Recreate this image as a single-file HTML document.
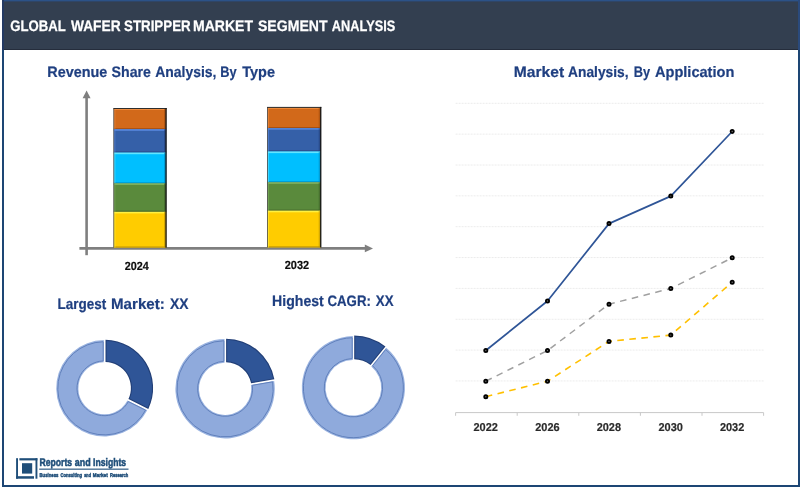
<!DOCTYPE html>
<html lang="en"><head><meta charset="utf-8"><title>Global Wafer Stripper Market Segment Analysis</title>
<style>
html,body{margin:0;padding:0;background:#fff;}
body{width:800px;height:487px;overflow:hidden;}
svg{display:block;}
text{text-rendering:geometricPrecision;font-family:"Liberation Sans",sans-serif;font-weight:bold;white-space:pre;}
</style></head><body>
<svg width="800" height="487" viewBox="0 0 800 487">
<rect x="0" y="0" width="800" height="487" fill="#ffffff"/>

<rect x="3" y="1" width="796" height="485" fill="#ffffff" stroke="#1d4674" stroke-width="2"/>
<rect x="2" y="0" width="798" height="50" fill="#333f50"/>
<rect x="2" y="0" width="798" height="1.4" fill="#2c5287"/>
<rect x="2" y="0" width="2" height="50" fill="#243a63"/>
<rect x="798" y="0" width="2" height="50" fill="#2a4a7c"/>
<rect x="4" y="49" width="794" height="1" fill="#252d3c"/>
<text x="10.30" y="31.00" font-size="15.2" fill="#ffffff" stroke="#ffffff" stroke-width="0.25" textLength="55.49" lengthAdjust="spacingAndGlyphs" >GLOBAL</text>
<text x="70.92" y="31.00" font-size="15.2" fill="#ffffff" stroke="#ffffff" stroke-width="0.25" textLength="49.74" lengthAdjust="spacingAndGlyphs" >WAFER</text>
<text x="124.03" y="31.00" font-size="15.2" fill="#ffffff" stroke="#ffffff" stroke-width="0.25" textLength="66.63" lengthAdjust="spacingAndGlyphs" >STRIPPER</text>
<text x="193.01" y="31.00" font-size="15.2" fill="#ffffff" stroke="#ffffff" stroke-width="0.25" textLength="60.04" lengthAdjust="spacingAndGlyphs" >MARKET</text>
<text x="258.00" y="31.00" font-size="15.2" fill="#ffffff" stroke="#ffffff" stroke-width="0.25" textLength="69.51" lengthAdjust="spacingAndGlyphs" >SEGMENT</text>
<text x="331.81" y="31.00" font-size="15.2" fill="#ffffff" stroke="#ffffff" stroke-width="0.25" textLength="63.51" lengthAdjust="spacingAndGlyphs" >ANALYSIS</text>
<text x="47.26" y="77.00" font-size="15.1" fill="#1f3f80" stroke="#1f3f80" stroke-width="0.2" textLength="60.09" lengthAdjust="spacingAndGlyphs" >Revenue</text>
<text x="111.57" y="77.00" font-size="15.1" fill="#1f3f80" stroke="#1f3f80" stroke-width="0.2" textLength="39.41" lengthAdjust="spacingAndGlyphs" >Share</text>
<text x="155.15" y="77.00" font-size="15.1" fill="#1f3f80" stroke="#1f3f80" stroke-width="0.2" textLength="61.27" lengthAdjust="spacingAndGlyphs" >Analysis,</text>
<text x="220.37" y="77.00" font-size="15.1" fill="#1f3f80" stroke="#1f3f80" stroke-width="0.2" textLength="16.34" lengthAdjust="spacingAndGlyphs" >By</text>
<text x="242.15" y="77.00" font-size="15.1" fill="#1f3f80" stroke="#1f3f80" stroke-width="0.2" textLength="32.85" lengthAdjust="spacingAndGlyphs" >Type</text>
<text x="513.79" y="77.00" font-size="15.1" fill="#1f3f80" stroke="#1f3f80" stroke-width="0.2" textLength="50.33" lengthAdjust="spacingAndGlyphs" >Market</text>
<text x="568.06" y="77.00" font-size="15.1" fill="#1f3f80" stroke="#1f3f80" stroke-width="0.2" textLength="60.46" lengthAdjust="spacingAndGlyphs" >Analysis,</text>
<text x="633.67" y="77.00" font-size="15.1" fill="#1f3f80" stroke="#1f3f80" stroke-width="0.2" textLength="16.34" lengthAdjust="spacingAndGlyphs" >By</text>
<text x="654.94" y="77.00" font-size="15.1" fill="#1f3f80" stroke="#1f3f80" stroke-width="0.2" textLength="79.43" lengthAdjust="spacingAndGlyphs" >Application</text>
<text x="57.62" y="309.00" font-size="15.1" fill="#1f3f80" stroke="#1f3f80" stroke-width="0.2" textLength="48.74" lengthAdjust="spacingAndGlyphs" >Largest</text>
<text x="111.02" y="309.00" font-size="15.1" fill="#1f3f80" stroke="#1f3f80" stroke-width="0.2" textLength="53.74" lengthAdjust="spacingAndGlyphs" >Market:</text>
<text x="169.96" y="309.00" font-size="15.1" fill="#1f3f80" stroke="#1f3f80" stroke-width="0.2" textLength="18.53" lengthAdjust="spacingAndGlyphs" >XX</text>
<text x="272.08" y="306.00" font-size="15.1" fill="#1f3f80" stroke="#1f3f80" stroke-width="0.2" textLength="51.69" lengthAdjust="spacingAndGlyphs" >Highest</text>
<text x="327.47" y="306.00" font-size="15.1" fill="#1f3f80" stroke="#1f3f80" stroke-width="0.2" textLength="43.42" lengthAdjust="spacingAndGlyphs" >CAGR:</text>
<text x="375.87" y="306.00" font-size="15.1" fill="#1f3f80" stroke="#1f3f80" stroke-width="0.2" textLength="17.72" lengthAdjust="spacingAndGlyphs" >XX</text>
<line x1="86.6" y1="255.2" x2="86.6" y2="97" stroke="#7f7f7f" stroke-width="2.6"/>
<polygon points="86.6,90.5 90.6,98.3 82.6,98.3" fill="#7f7f7f"/>
<line x1="79.4" y1="248.4" x2="366" y2="248.4" stroke="#7f7f7f" stroke-width="2.6"/>
<polygon points="373,248.4 364.8,244.6 364.8,252.2" fill="#7f7f7f"/>
<rect x="113.8" y="108.5" width="52.40" height="20.80" fill="#d2691a"/>
<rect x="113.8" y="108.5" width="52.40" height="1.5" fill="#f08c3e"/>
<rect x="113.8" y="128.10" width="52.40" height="1.2" fill="#9c4a0e" fill-opacity="0.75"/>
<rect x="113.8" y="108.5" width="1.6" height="20.80" fill="#f08c3e" fill-opacity="0.55"/>
<rect x="164.00" y="108.5" width="2.2" height="20.80" fill="#9c4a0e" fill-opacity="0.6"/>
<rect x="113.8" y="129.3" width="52.40" height="23.40" fill="#3560a8"/>
<rect x="113.8" y="129.3" width="52.40" height="1.5" fill="#5887de"/>
<rect x="113.8" y="151.50" width="52.40" height="1.2" fill="#233f78" fill-opacity="0.75"/>
<rect x="113.8" y="129.3" width="1.6" height="23.40" fill="#5887de" fill-opacity="0.55"/>
<rect x="164.00" y="129.3" width="2.2" height="23.40" fill="#233f78" fill-opacity="0.6"/>
<rect x="113.8" y="152.7" width="52.40" height="30.80" fill="#00bfff"/>
<rect x="113.8" y="152.7" width="52.40" height="1.5" fill="#62e6ff"/>
<rect x="113.8" y="182.30" width="52.40" height="1.2" fill="#0088bb" fill-opacity="0.75"/>
<rect x="113.8" y="152.7" width="1.6" height="30.80" fill="#62e6ff" fill-opacity="0.55"/>
<rect x="164.00" y="152.7" width="2.2" height="30.80" fill="#0088bb" fill-opacity="0.6"/>
<rect x="113.8" y="183.5" width="52.40" height="28.40" fill="#5a8a3c"/>
<rect x="113.8" y="183.5" width="52.40" height="1.5" fill="#7daf5c"/>
<rect x="113.8" y="210.70" width="52.40" height="1.2" fill="#3c5f26" fill-opacity="0.75"/>
<rect x="113.8" y="183.5" width="1.6" height="28.40" fill="#7daf5c" fill-opacity="0.55"/>
<rect x="164.00" y="183.5" width="2.2" height="28.40" fill="#3c5f26" fill-opacity="0.6"/>
<rect x="113.8" y="211.9" width="52.40" height="35.70" fill="#ffcc00"/>
<rect x="113.8" y="211.9" width="52.40" height="1.5" fill="#fff040"/>
<rect x="113.8" y="246.40" width="52.40" height="1.2" fill="#b88f00" fill-opacity="0.75"/>
<rect x="113.8" y="211.9" width="1.6" height="35.70" fill="#fff040" fill-opacity="0.55"/>
<rect x="164.00" y="211.9" width="2.2" height="35.70" fill="#b88f00" fill-opacity="0.6"/>
<rect x="113.40" y="108.5" width="0.8" height="139.10" fill="#4a4a4a"/>
<rect x="113.40" y="108.00" width="53.20" height="1" fill="#2e2e2e"/>
<rect x="165.40" y="108.00" width="1.3" height="139.60" fill="#161616"/>
<rect x="267.4" y="107.4" width="53.50" height="20.80" fill="#d2691a"/>
<rect x="267.4" y="107.4" width="53.50" height="1.5" fill="#f08c3e"/>
<rect x="267.4" y="127.00" width="53.50" height="1.2" fill="#9c4a0e" fill-opacity="0.75"/>
<rect x="267.4" y="107.4" width="1.6" height="20.80" fill="#f08c3e" fill-opacity="0.55"/>
<rect x="318.70" y="107.4" width="2.2" height="20.80" fill="#9c4a0e" fill-opacity="0.6"/>
<rect x="267.4" y="128.2" width="53.50" height="23.40" fill="#3560a8"/>
<rect x="267.4" y="128.2" width="53.50" height="1.5" fill="#5887de"/>
<rect x="267.4" y="150.40" width="53.50" height="1.2" fill="#233f78" fill-opacity="0.75"/>
<rect x="267.4" y="128.2" width="1.6" height="23.40" fill="#5887de" fill-opacity="0.55"/>
<rect x="318.70" y="128.2" width="2.2" height="23.40" fill="#233f78" fill-opacity="0.6"/>
<rect x="267.4" y="151.6" width="53.50" height="30.80" fill="#00bfff"/>
<rect x="267.4" y="151.6" width="53.50" height="1.5" fill="#62e6ff"/>
<rect x="267.4" y="181.20" width="53.50" height="1.2" fill="#0088bb" fill-opacity="0.75"/>
<rect x="267.4" y="151.6" width="1.6" height="30.80" fill="#62e6ff" fill-opacity="0.55"/>
<rect x="318.70" y="151.6" width="2.2" height="30.80" fill="#0088bb" fill-opacity="0.6"/>
<rect x="267.4" y="182.4" width="53.50" height="28.40" fill="#5a8a3c"/>
<rect x="267.4" y="182.4" width="53.50" height="1.5" fill="#7daf5c"/>
<rect x="267.4" y="209.60" width="53.50" height="1.2" fill="#3c5f26" fill-opacity="0.75"/>
<rect x="267.4" y="182.4" width="1.6" height="28.40" fill="#7daf5c" fill-opacity="0.55"/>
<rect x="318.70" y="182.4" width="2.2" height="28.40" fill="#3c5f26" fill-opacity="0.6"/>
<rect x="267.4" y="210.8" width="53.50" height="36.60" fill="#ffcc00"/>
<rect x="267.4" y="210.8" width="53.50" height="1.5" fill="#fff040"/>
<rect x="267.4" y="246.20" width="53.50" height="1.2" fill="#b88f00" fill-opacity="0.75"/>
<rect x="267.4" y="210.8" width="1.6" height="36.60" fill="#fff040" fill-opacity="0.55"/>
<rect x="318.70" y="210.8" width="2.2" height="36.60" fill="#b88f00" fill-opacity="0.6"/>
<rect x="267.00" y="107.4" width="0.8" height="140.00" fill="#4a4a4a"/>
<rect x="267.00" y="106.90" width="54.30" height="1" fill="#2e2e2e"/>
<rect x="320.10" y="106.90" width="1.3" height="140.50" fill="#161616"/>
<text x="124.72" y="270.00" font-size="11.8" fill="#0d0d0d" stroke="#0d0d0d" stroke-width="0.2" textLength="24.03" lengthAdjust="spacingAndGlyphs" >2024</text>
<text x="284.72" y="269.00" font-size="11.8" fill="#0d0d0d" stroke="#0d0d0d" stroke-width="0.2" textLength="24.42" lengthAdjust="spacingAndGlyphs" >2032</text>
<path d="M147.26,410.34 A48.2,48.2 0 1 1 103.80,340.10 L103.80,362.31 A26,26 0 1 0 127.39,400.43 Z" fill="#9ab3e0"/>
<path d="M145.55,410.16 A46.6,46.6 0 1 1 103.20,341.72 L103.20,360.93 A27.4,27.4 0 1 0 128.36,401.59 Z" fill="#8faadc" stroke="#6080bc" stroke-width="1"/>
<g transform="translate(0.51,-0.32)">
<path d="M105.00,340.10 A48.2,48.2 0 0 1 147.80,409.27 L127.93,399.36 A26,26 0 0 0 105.00,362.31 Z" fill="#223f77"/>
<path d="M106.10,341.23 A47.1,47.1 0 0 1 147.28,407.78 L129.36,398.85 A27.1,27.1 0 0 0 106.10,361.25 Z" fill="#2f5597"/>
</g>
<path d="M274.17,380.93 A49.7,49.7 0 1 1 224.50,339.10 L224.50,362.71 A26.1,26.1 0 1 0 250.91,384.95 Z" fill="#9ab3e0"/>
<path d="M272.69,381.80 A48.1,48.1 0 1 1 223.90,340.71 L223.90,361.33 A27.5,27.5 0 1 0 252.38,385.31 Z" fill="#8faadc" stroke="#6080bc" stroke-width="1"/>
<g transform="translate(0.39,-0.46)">
<path d="M225.70,339.10 A49.7,49.7 0 0 1 273.97,379.75 L250.71,383.77 A26.1,26.1 0 0 0 225.70,362.71 Z" fill="#223f77"/>
<path d="M226.80,340.23 A48.6,48.6 0 0 1 272.67,378.86 L251.56,382.51 A27.200000000000003,27.200000000000003 0 0 0 226.80,361.65 Z" fill="#2f5597"/>
</g>
<path d="M386.20,347.86 A51.6,51.6 0 1 1 352.80,336.10 L352.80,359.91 A27.8,27.8 0 1 0 371.28,366.42 Z" fill="#9ab3e0"/>
<path d="M385.66,349.50 A50.0,50.0 0 1 1 352.20,337.71 L352.20,358.52 A29.2,29.2 0 1 0 372.62,365.71 Z" fill="#8faadc" stroke="#6080bc" stroke-width="1"/>
<g transform="translate(0.20,-0.57)">
<path d="M354.00,336.10 A51.6,51.6 0 0 1 385.26,347.11 L370.35,365.66 A27.8,27.8 0 0 0 354.00,359.91 Z" fill="#223f77"/>
<path d="M355.10,337.23 A50.5,50.5 0 0 1 383.70,347.30 L370.15,364.15 A28.900000000000002,28.900000000000002 0 0 0 355.10,358.85 Z" fill="#2f5597"/>
</g>
<line x1="455.6" y1="103.30" x2="763.6" y2="103.30" stroke="#ececec" stroke-width="1" stroke-dasharray="2 1"/>
<line x1="455.6" y1="134.15" x2="763.6" y2="134.15" stroke="#ececec" stroke-width="1" stroke-dasharray="2 1"/>
<line x1="455.6" y1="165.00" x2="763.6" y2="165.00" stroke="#ececec" stroke-width="1" stroke-dasharray="2 1"/>
<line x1="455.6" y1="195.85" x2="763.6" y2="195.85" stroke="#ececec" stroke-width="1" stroke-dasharray="2 1"/>
<line x1="455.6" y1="226.70" x2="763.6" y2="226.70" stroke="#ececec" stroke-width="1" stroke-dasharray="2 1"/>
<line x1="455.6" y1="257.55" x2="763.6" y2="257.55" stroke="#ececec" stroke-width="1" stroke-dasharray="2 1"/>
<line x1="455.6" y1="288.40" x2="763.6" y2="288.40" stroke="#ececec" stroke-width="1" stroke-dasharray="2 1"/>
<line x1="455.6" y1="319.25" x2="763.6" y2="319.25" stroke="#ececec" stroke-width="1" stroke-dasharray="2 1"/>
<line x1="455.6" y1="350.10" x2="763.6" y2="350.10" stroke="#ececec" stroke-width="1" stroke-dasharray="2 1"/>
<line x1="455.6" y1="380.95" x2="763.6" y2="380.95" stroke="#ececec" stroke-width="1" stroke-dasharray="2 1"/>
<line x1="455.6" y1="412.6" x2="763.6" y2="412.6" stroke="#c8c8c8" stroke-width="1"/>
<line x1="455.60" y1="412.6" x2="455.60" y2="415.8" stroke="#c8c8c8" stroke-width="1"/>
<line x1="517.20" y1="412.6" x2="517.20" y2="415.8" stroke="#c8c8c8" stroke-width="1"/>
<line x1="578.80" y1="412.6" x2="578.80" y2="415.8" stroke="#c8c8c8" stroke-width="1"/>
<line x1="640.40" y1="412.6" x2="640.40" y2="415.8" stroke="#c8c8c8" stroke-width="1"/>
<line x1="702.00" y1="412.6" x2="702.00" y2="415.8" stroke="#c8c8c8" stroke-width="1"/>
<line x1="763.60" y1="412.6" x2="763.60" y2="415.8" stroke="#c8c8c8" stroke-width="1"/>
<polyline points="485.8,396.7 547.5,381.2 609.0,341.4 670.8,335.1 732.2,282.2" fill="none" stroke="#ffc000" stroke-width="1.6" stroke-linejoin="round" stroke-linecap="butt" stroke-dasharray="6.6 5.5"/>
<polyline points="485.8,381.2 547.5,350.5 609.0,304.2 670.8,288.5 732.2,257.8" fill="none" stroke="#a0a0a0" stroke-width="1.5" stroke-linejoin="round" stroke-linecap="butt" stroke-dasharray="6.6 5.5"/>
<polyline points="485.8,350.5 547.5,301.0 609.0,223.6 670.8,196.1 732.2,131.5" fill="none" stroke="#2f5597" stroke-width="1.7" stroke-linejoin="round" stroke-linecap="butt"/>
<circle cx="485.8" cy="396.7" r="1.6" fill="#707070" stroke="#000" stroke-width="1.8"/>
<circle cx="547.5" cy="381.2" r="1.6" fill="#707070" stroke="#000" stroke-width="1.8"/>
<circle cx="609.0" cy="341.4" r="1.6" fill="#707070" stroke="#000" stroke-width="1.8"/>
<circle cx="670.8" cy="335.1" r="1.6" fill="#707070" stroke="#000" stroke-width="1.8"/>
<circle cx="732.2" cy="282.2" r="1.6" fill="#707070" stroke="#000" stroke-width="1.8"/>
<circle cx="485.8" cy="381.2" r="1.6" fill="#707070" stroke="#000" stroke-width="1.8"/>
<circle cx="547.5" cy="350.5" r="1.6" fill="#707070" stroke="#000" stroke-width="1.8"/>
<circle cx="609.0" cy="304.2" r="1.6" fill="#707070" stroke="#000" stroke-width="1.8"/>
<circle cx="670.8" cy="288.5" r="1.6" fill="#707070" stroke="#000" stroke-width="1.8"/>
<circle cx="732.2" cy="257.8" r="1.6" fill="#707070" stroke="#000" stroke-width="1.8"/>
<circle cx="485.8" cy="350.5" r="1.6" fill="#707070" stroke="#000" stroke-width="1.8"/>
<circle cx="547.5" cy="301.0" r="1.6" fill="#707070" stroke="#000" stroke-width="1.8"/>
<circle cx="609.0" cy="223.6" r="1.6" fill="#707070" stroke="#000" stroke-width="1.8"/>
<circle cx="670.8" cy="196.1" r="1.6" fill="#707070" stroke="#000" stroke-width="1.8"/>
<circle cx="732.2" cy="131.5" r="1.6" fill="#707070" stroke="#000" stroke-width="1.8"/>
<text x="473.52" y="431.00" font-size="11.3" fill="#2a2a2a" stroke="#2a2a2a" stroke-width="0.2" textLength="24.42" lengthAdjust="spacingAndGlyphs" >2022</text>
<text x="535.22" y="431.00" font-size="11.3" fill="#2a2a2a" stroke="#2a2a2a" stroke-width="0.2" textLength="24.36" lengthAdjust="spacingAndGlyphs" >2026</text>
<text x="596.72" y="431.00" font-size="11.3" fill="#2a2a2a" stroke="#2a2a2a" stroke-width="0.2" textLength="24.31" lengthAdjust="spacingAndGlyphs" >2028</text>
<text x="658.52" y="431.00" font-size="11.3" fill="#2a2a2a" stroke="#2a2a2a" stroke-width="0.2" textLength="24.42" lengthAdjust="spacingAndGlyphs" >2030</text>
<text x="719.92" y="431.00" font-size="11.3" fill="#2a2a2a" stroke="#2a2a2a" stroke-width="0.2" textLength="24.42" lengthAdjust="spacingAndGlyphs" >2032</text>
<rect x="16.1" y="458.2" width="1.9" height="20.5" fill="#1f4e79"/>
<rect x="16.1" y="476.2" width="17.9" height="2.5" fill="#1f4e79"/>
<rect x="19.4" y="458.2" width="18" height="2.2" fill="#1f4e79"/>
<rect x="35.5" y="458.2" width="1.9" height="20.5" fill="#1f4e79"/>
<rect x="22" y="463.2" width="10.2" height="10.4" fill="#1f4e79"/>
<text x="39.49" y="465.70" font-size="11" fill="#1f4e79" stroke="#1f4e79" stroke-width="0.5" textLength="32.64" lengthAdjust="spacingAndGlyphs" >Reports</text>
<text x="74.78" y="465.70" font-size="11" fill="#1f4e79" stroke="#1f4e79" stroke-width="0.5" textLength="15.98" lengthAdjust="spacingAndGlyphs" >and</text>
<text x="92.99" y="465.70" font-size="11" fill="#1f4e79" stroke="#1f4e79" stroke-width="0.5" textLength="33.14" lengthAdjust="spacingAndGlyphs" >Insights</text>
<rect x="39.2" y="468.6" width="89.3" height="1.1" fill="#1f4e79"/>
<text x="39.55" y="476.80" font-size="5.5" fill="#1f4e79" stroke="#1f4e79" stroke-width="0.45" textLength="18.90" lengthAdjust="spacingAndGlyphs" >Business</text>
<text x="60.46" y="476.80" font-size="5.5" fill="#1f4e79" stroke="#1f4e79" stroke-width="0.45" textLength="21.59" lengthAdjust="spacingAndGlyphs" >Consulting</text>
<text x="84.21" y="476.80" font-size="5.5" fill="#1f4e79" stroke="#1f4e79" stroke-width="0.45" textLength="6.83" lengthAdjust="spacingAndGlyphs" >and</text>
<text x="92.82" y="476.80" font-size="5.5" fill="#1f4e79" stroke="#1f4e79" stroke-width="0.45" textLength="14.91" lengthAdjust="spacingAndGlyphs" >Market</text>
<text x="109.96" y="476.80" font-size="5.5" fill="#1f4e79" stroke="#1f4e79" stroke-width="0.45" textLength="18.27" lengthAdjust="spacingAndGlyphs" >Research</text>
</svg></body></html>
